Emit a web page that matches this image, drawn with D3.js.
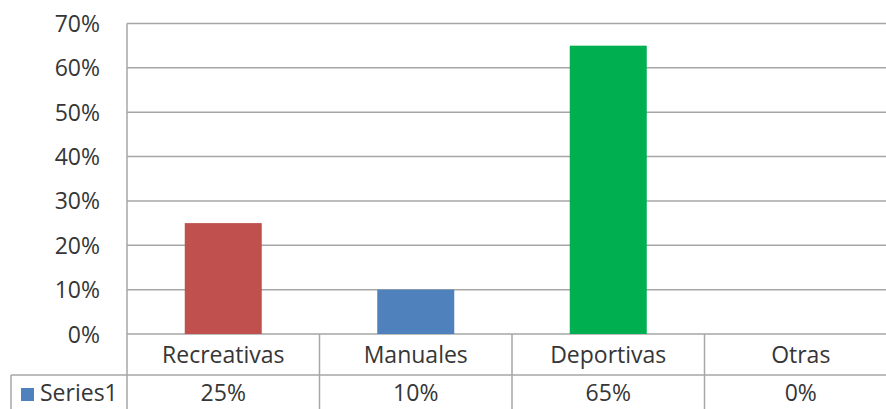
<!DOCTYPE html>
<html>
<head>
<meta charset="utf-8">
<script src="https://cdn.jsdelivr.net/npm/d3@7"></script>
<style>
  html, body { margin: 0; padding: 0; background: #fff; }
  svg { display: block; }
  text { font-family: "Open Sans", sans-serif; fill: #363636; }
</style>
</head>
<body>
<svg id="chart" width="886" height="409"></svg>
<script>
// Chart data
const categories = ["Recreativas", "Manuales", "Deportivas", "Otras"];
const values = [0.25, 0.10, 0.65, 0.00];
const barColors = ["#C0504D", "#4F81BD", "#00B050", "#9BBB59"];
const yTicks = [0, 0.1, 0.2, 0.3, 0.4, 0.5, 0.6, 0.7];
const seriesName = "Series1";
const legendColor = "#4F81BD";

const svg = d3.select("#chart");
const W = 886, H = 409;
const plot = { left: 127, right: 897, top: 23.5, bottom: 334 };
const tableRow = 375;
const valueRowY = 393;
const legendLeft = 11;
const gridColor = "#A6A6A6";
const fontSize = 23;
const fmt = d3.format(".0%");

const x = d3.scaleBand().domain(categories).range([plot.left, plot.right]).padding(0);
const y = d3.scaleLinear().domain([0, 0.7]).range([plot.bottom, plot.top]);

// Horizontal gridlines
svg.append("g").selectAll("line").data(yTicks).join("line")
  .attr("x1", plot.left).attr("x2", W)
  .attr("y1", d => y(d)).attr("y2", d => y(d))
  .attr("stroke", gridColor).attr("stroke-width", 1.5);

// Y axis labels
const yAxis = d3.axisLeft(y).tickValues(yTicks).tickFormat(fmt).tickSize(0).tickPadding(0);
const gy = svg.append("g").attr("transform", `translate(${plot.left - 27},0)`).call(yAxis);
gy.select(".domain").remove();
gy.selectAll("text").attr("font-size", fontSize).attr("font-family", "'Open Sans', sans-serif")
  .attr("fill", "#363636").attr("dy", "0.35em");

// Bars
svg.append("g").selectAll("rect").data(categories).join("rect")
  .attr("x", d => x(d) + x.bandwidth() * 0.3)
  .attr("width", x.bandwidth() * 0.4)
  .attr("y", (d, i) => y(values[i]))
  .attr("height", (d, i) => y(0) - y(values[i]))
  .attr("fill", (d, i) => barColors[i]);

// Data table lines
const lines = svg.append("g").attr("stroke", gridColor).attr("stroke-width", 1.5);
lines.append("line").attr("x1", plot.left).attr("x2", plot.left).attr("y1", plot.top).attr("y2", H);
categories.slice(1).forEach(c => {
  lines.append("line").attr("x1", x(c)).attr("x2", x(c)).attr("y1", plot.bottom).attr("y2", H);
});
lines.append("line").attr("x1", legendLeft).attr("x2", W).attr("y1", tableRow).attr("y2", tableRow);
lines.append("line").attr("x1", legendLeft).attr("x2", legendLeft).attr("y1", tableRow).attr("y2", H);

// Category labels
svg.append("g").selectAll("text").data(categories).join("text")
  .attr("x", d => x(d) + x.bandwidth() / 2)
  .attr("y", (plot.bottom + tableRow) / 2)
  .attr("dy", "0.35em")
  .attr("text-anchor", "middle")
  .attr("font-size", fontSize)
  .text(d => d);

// Value row
svg.append("g").selectAll("text").data(categories).join("text")
  .attr("x", d => x(d) + x.bandwidth() / 2)
  .attr("y", valueRowY)
  .attr("dy", "0.35em")
  .attr("text-anchor", "middle")
  .attr("font-size", fontSize)
  .text((d, i) => fmt(values[i]));

// Legend key
svg.append("rect").attr("x", 21).attr("y", 388).attr("width", 13).attr("height", 13).attr("fill", legendColor);
svg.append("text").attr("x", 40).attr("y", valueRowY).attr("dy", "0.35em").attr("font-size", fontSize).text(seriesName);
</script>
</body>
</html>
